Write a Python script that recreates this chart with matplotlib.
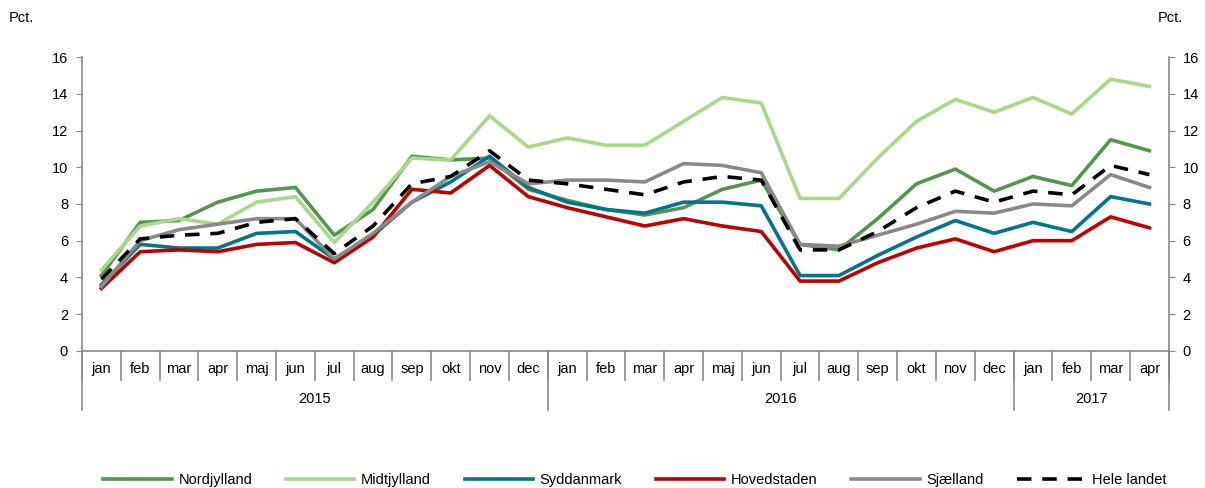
import matplotlib
matplotlib.use("Agg")
import matplotlib.pyplot as plt
import numpy as np

plt.rcParams['font.family'] = ['Liberation Sans', 'DejaVu Sans']

# data (pct.), jan 2015 - apr 2017
months = ["jan", "feb", "mar", "apr", "maj", "jun", "jul", "aug", "sep", "okt", "nov", "dec",
          "jan", "feb", "mar", "apr", "maj", "jun", "jul", "aug", "sep", "okt", "nov", "dec",
          "jan", "feb", "mar", "apr"]
years = ["2015", "2016", "2017"]
year_len = [12, 12, 4]

nordjylland = [4.1, 7.0, 7.1, 8.1, 8.7, 8.9, 6.3, 7.7, 10.6, 10.4, 10.5, 8.8,
               8.2, 7.7, 7.4, 7.8, 8.8, 9.3, 5.8, 5.5, 7.2, 9.1, 9.9, 8.7,
               9.5, 9.0, 11.5, 10.9]
midtjylland = [4.4, 6.8, 7.2, 6.9, 8.1, 8.4, 5.9, 8.1, 10.5, 10.4, 12.8, 11.1,
               11.6, 11.2, 11.2, 12.5, 13.8, 13.5, 8.3, 8.3, 10.5, 12.5, 13.7, 13.0,
               13.8, 12.9, 14.8, 14.4]
syddanmark = [3.6, 5.8, 5.6, 5.6, 6.4, 6.5, 5.0, 6.3, 8.1, 9.2, 10.6, 8.9,
              8.1, 7.7, 7.5, 8.1, 8.1, 7.9, 4.1, 4.1, 5.2, 6.2, 7.1, 6.4,
              7.0, 6.5, 8.4, 8.0]
hovedstaden = [3.4, 5.4, 5.5, 5.4, 5.8, 5.9, 4.8, 6.2, 8.8, 8.6, 10.1, 8.4,
               7.8, 7.3, 6.8, 7.2, 6.8, 6.5, 3.8, 3.8, 4.8, 5.6, 6.1, 5.4,
               6.0, 6.0, 7.3, 6.7]
sjaelland = [3.5, 6.0, 6.6, 6.9, 7.2, 7.2, 5.0, 6.4, 8.1, 9.5, 10.3, 9.1,
             9.3, 9.3, 9.2, 10.2, 10.1, 9.7, 5.8, 5.7, 6.3, 6.9, 7.6, 7.5,
             8.0, 7.9, 9.6, 8.9]
hele_landet = [3.9, 6.1, 6.3, 6.4, 7.0, 7.2, 5.3, 6.8, 9.1, 9.5, 10.9, 9.3,
               9.1, 8.8, 8.5, 9.2, 9.5, 9.3, 5.5, 5.5, 6.5, 7.8, 8.7, 8.1,
               8.7, 8.5, 10.1, 9.6]

series = [
    ("Nordjylland", nordjylland, "#55964f", "-"),
    ("Midtjylland", midtjylland, "#a8d888", "-"),
    ("Syddanmark", syddanmark, "#00758c", "-"),
    ("Hovedstaden", hovedstaden, "#c00000", "-"),
    ("Sjælland", sjaelland, "#898989", "-"),
    ("Hele landet", hele_landet, "#000000", "--"),
]

fig = plt.figure(figsize=(12.05, 4.88), dpi=100)
ax = fig.add_axes([0.068, 0.281, 0.902, 0.602])
x = np.arange(len(months))

for name, vals, col, ls in series:
    if ls == "--":
        ax.plot(x, vals, color=col, lw=2.6, ls=ls, dashes=(4, 3), label=name)
    else:
        ax.plot(x, vals, color=col, lw=2.6, label=name)

ax.set_xlim(-0.5, len(months) - 0.5)
ax.set_ylim(0, 16)
ax.set_yticks(range(0, 17, 2))
ax.tick_params(axis='y', labelsize=10.5, colors='#000000', length=4, color='#888888',
               right=True, labelright=True, pad=6)
ax.set_xticks([])
ax.spines["top"].set_visible(False)
for s in ["left", "right", "bottom"]:
    ax.spines[s].set_color('#888888')
    ax.spines[s].set_linewidth(1.2)

# category axis: months and years
trans = ax.get_xaxis_transform()
for i, m in enumerate(months):
    ax.text(i, -0.062, m, transform=trans, ha='center', va='center', fontsize=10.5)
bounds = np.concatenate([[0], np.cumsum(year_len)]) - 0.5
for b in np.arange(-0.5, len(months), 1.0):
    ax.plot([b, b], [0, -0.1], transform=trans, color='#888888', lw=1.2, clip_on=False)
for b in bounds:
    ax.plot([b, b], [0, -0.2], transform=trans, color='#888888', lw=1.2, clip_on=False)
for k, yname in enumerate(years):
    ax.text((bounds[k] + bounds[k + 1]) / 2, -0.165, yname, transform=trans,
            ha='center', va='center', fontsize=10.5)

fig.text(0.007, 0.963, "Pct.", fontsize=10.5, ha='left', va='center')
fig.text(0.982, 0.963, "Pct.", fontsize=10.5, ha='right', va='center')

fig.legend(loc='center', bbox_to_anchor=(0.527, 0.016), ncol=6, frameon=False,
           fontsize=10.5, handlelength=4.7, columnspacing=2.3, handletextpad=0.45)

fig.savefig("out.png", dpi=100)
